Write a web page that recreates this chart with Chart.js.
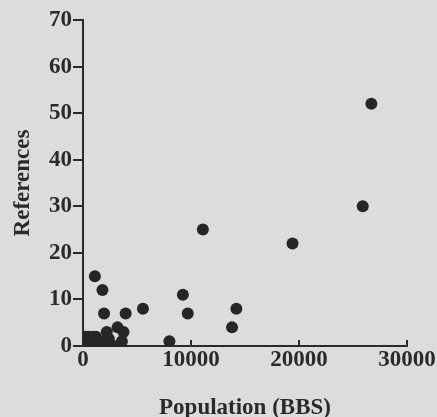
<!DOCTYPE html>
<html>
<head>
<meta charset="utf-8">
<script src="https://cdn.jsdelivr.net/npm/chart.js@4/dist/chart.umd.min.js"></script>
<style>
  html, body { margin: 0; padding: 0; background: #dcdcdc; }
  #wrap { position: relative; width: 437px; height: 417px; }
</style>
</head>
<body>
<div id="wrap"><canvas id="chart"></canvas></div>
<script>
// population (BBS) vs number of references
const population = [
  26700, 25900, 11100, 19400, 1100, 1800, 9250, 1950, 3950, 5550,
  9700, 14200, 13800, 8000, 3200, 3750, 2200, 3600, 2800, 1600,
  2400, 1900, 200, 500, 900, 1200, 200, 600, 1000, 300, 700, 1200, 1500
];
const references = [
  52, 30, 25, 22, 15, 12, 11, 7, 7, 8,
  7, 8, 4, 1, 4, 3, 3, 1, 0, 0,
  1.5, 1, 2, 2, 2, 2, 1, 1, 1, 0, 0, 0, 1
];
const xTicks = [0, 10000, 20000, 30000];
const yTicks = [0, 10, 20, 30, 40, 50, 60, 70];

const ink = '#2a2a2a';
const tickFont = { family: 'Liberation Serif', size: 23, weight: 'bold' };
const titleFont = { family: 'Liberation Serif', size: 23, weight: 'bold', lineHeight: 0.75 };

// x ticks in the original point up into the plot
const innerTicks = {
  id: 'innerTicks',
  afterDraw(chart) {
    const ctx = chart.ctx;
    const x = chart.scales.x;
    const bottom = chart.chartArea.bottom;
    ctx.save();
    ctx.strokeStyle = ink;
    ctx.lineWidth = 2;
    xTicks.slice(1).forEach(v => {
      const px = x.getPixelForValue(v);
      ctx.beginPath();
      ctx.moveTo(px, bottom);
      ctx.lineTo(px, bottom - 6);
      ctx.stroke();
    });
    ctx.restore();
  }
};

const points = population.map((p, i) => ({ x: p, y: references[i] }));

new Chart(document.getElementById('chart'), {
  type: 'scatter',
  data: {
    datasets: [{
      data: points,
      backgroundColor: '#262626',
      borderWidth: 0,
      pointRadius: 6,
      pointHoverRadius: 6,
    }],
  },
  options: {
    responsive: true,
    maintainAspectRatio: false,
    animation: false,
    layout: { padding: { left: 0, right: 30, top: 20, bottom: 0 } },
    plugins: {
      legend: { display: false },
      tooltip: { enabled: false },
    },
    scales: {
      x: {
        type: 'linear',
        min: 0,
        max: 30000,
        afterBuildTicks: (s) => { s.ticks = xTicks.map(v => ({ value: v })); },
        afterFit: (s) => { s.height = 71; },
        grid: { display: true, drawOnChartArea: false, drawTicks: false },
        border: { color: ink, width: 2 },
        ticks: { color: ink, font: tickFont, padding: 0, maxRotation: 0, callback: v => String(v) },
        title: { display: true, text: 'Population (BBS)', color: ink, font: titleFont, padding: 0 },
      },
      y: {
        type: 'linear',
        min: 0,
        max: 70,
        afterBuildTicks: (s) => { s.ticks = yTicks.map(v => ({ value: v })); },
        afterFit: (s) => { s.width = 83; },
        grid: { drawOnChartArea: false, drawTicks: true, tickLength: 10, color: ink, lineWidth: 2 },
        border: { color: ink, width: 2 },
        ticks: { color: ink, font: tickFont, padding: 1 },
        title: { display: true, text: 'References', color: ink, font: { ...titleFont, lineHeight: 1 }, padding: { top: 12, bottom: 0 } },
      },
    },
  },
  plugins: [innerTicks],
});
</script>
</body>
</html>
